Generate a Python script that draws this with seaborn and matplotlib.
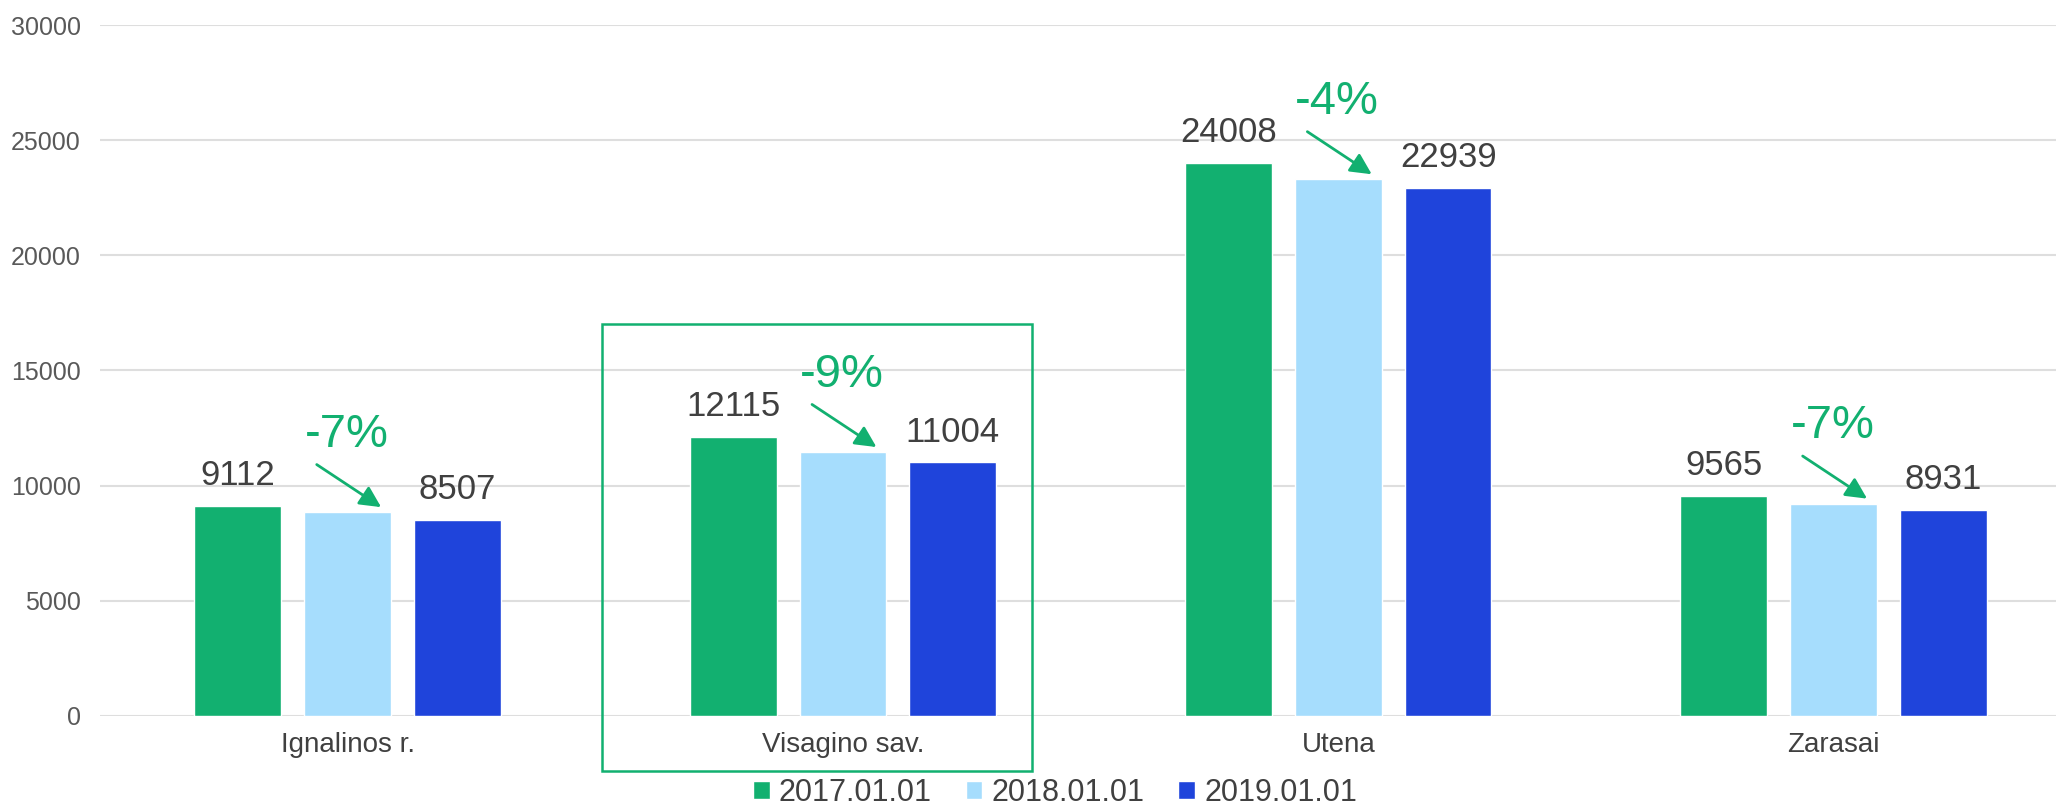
import pandas as pd
import seaborn as sns
import matplotlib
matplotlib.use("Agg")
from matplotlib import pyplot as plt
from matplotlib import font_manager
from matplotlib.patches import Rectangle

regions = ["Ignalinos r.", "Visagino sav.", "Utena", "Zarasai"]
years = ["2017.01.01", "2018.01.01", "2019.01.01"]
v2017 = [9112, 12115, 24008, 9565]
v2018 = [8840, 11450, 23300, 9210]
v2019 = [8507, 11004, 22939, 8931]
changes = ["-7%", "-9%", "-4%", "-7%"]
colors = ["#12B070", "#A6DDFD", "#1F44DB"]
green = "#12B070"

rows = []
for yr, vals in zip(years, [v2017, v2018, v2019]):
    for reg, v in zip(regions, vals):
        rows.append({"region": reg, "year": yr, "value": v})
df = pd.DataFrame(rows)

sns.set_style("white")
plt.rcParams["font.family"] = ["Liberation Sans", "DejaVu Sans"]

# legend uses a narrow font in the original
try:
    font_manager.findfont("Liberation Sans Narrow", fallback_to_default=False)
    leg_family, leg_size = "Liberation Sans Narrow", 26
except Exception:
    leg_family, leg_size = "Liberation Sans", 22

fig = plt.figure(figsize=(20.56, 8.09), dpi=100)
ax = fig.add_axes([100 / 2056, 0.1153, 1 - 100 / 2056, 0.8537])

sns.barplot(data=df, x="region", y="value", hue="year", palette=colors,
            width=0.665, gap=0.21, saturation=1, errorbar=None, ax=ax)

ax.set_ylim(0, 30000)
ax.set_xlim(-0.5, 3.449)
ax.set_yticks(range(0, 30001, 5000))
ax.set_xlabel("")
ax.set_ylabel("")
for s in ax.spines.values():
    s.set_visible(False)
ax.yaxis.grid(True, color="#DEDEDE", lw=1.5)
ax.set_axisbelow(True)
ax.tick_params(axis="y", length=0, pad=14, labelsize=18, labelcolor="#595959")
ax.tick_params(axis="x", length=0, pad=12, labelsize=20, labelcolor="#404040")

# value labels on first and last year only
for idx in (0, 2):
    ax.bar_label(ax.containers[idx], padding=10, fontsize=25, color="#404040")

# percentage change arrows pointing to middle bar
for i, p in enumerate(ax.containers[1].patches):
    ex = p.get_x() + p.get_width() - 0.02
    ey = p.get_height() + 220
    sx, sy = ex - 0.13, ey + 1850
    ax.annotate("", xy=(ex, ey), xytext=(sx, sy),
                arrowprops=dict(arrowstyle="-|>", color=green, lw=2,
                                mutation_scale=32, shrinkA=0, shrinkB=0))
    ax.text(sx + 0.06, sy + 780, changes[i], color=green, fontsize=34,
            ha="center", va="baseline")

# highlight box around Visagino
ax.add_patch(Rectangle((0.513, -2394), 1.382 - 0.513, 17022 + 2394,
                       fill=False, edgecolor=green, lw=1.8, clip_on=False))

handles, labels = ax.get_legend_handles_labels()
ax.legend(handles, labels, loc="center", bbox_to_anchor=(1055 / 2056, 1 - 793 / 809),
          bbox_transform=fig.transFigure, ncol=3, frameon=False,
          prop={"family": leg_family, "size": leg_size},
          handlelength=0.55, handleheight=0.55, handletextpad=0.3,
          columnspacing=1.1, labelcolor="#404040")

fig.savefig("out.png", dpi=100)
